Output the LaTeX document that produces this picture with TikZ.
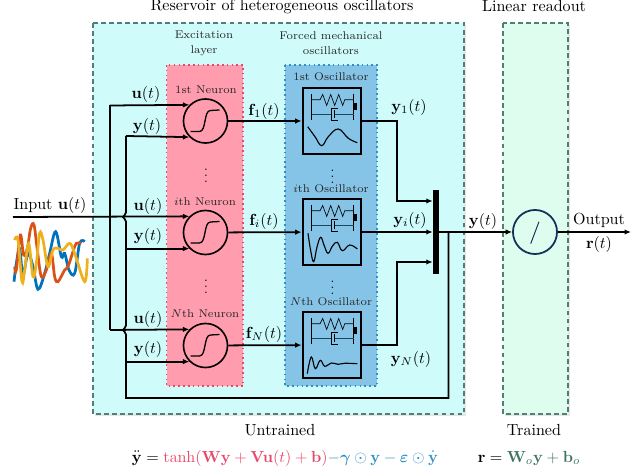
\documentclass[tikz,border=0pt]{standalone}
\usepackage{amsmath}
\usetikzlibrary{arrows.meta,shadows}
\definecolor{cyanbg}{HTML}{CFFBFB}
\definecolor{greenbg}{HTML}{DFFDEE}
\definecolor{neuronbg}{HTML}{FF9CAE}
\definecolor{oscbg}{HTML}{85C4E6}
\definecolor{dashgreen}{HTML}{4F8078}
\definecolor{neuronred}{HTML}{E8486A}
\definecolor{oscblue}{HTML}{2F8FC4}
\definecolor{trainedgreen}{HTML}{3F7560}
\definecolor{navy}{HTML}{12305A}
\definecolor{sigblue}{HTML}{0072BD}
\definecolor{sigorange}{HTML}{D95319}
\definecolor{sigyellow}{HTML}{EDB120}
\tikzset{
  panel/.style={draw=dashgreen,densely dashed,line width=.8pt,
    drop shadow={shadow xshift=1pt,shadow yshift=-1pt,opacity=.2}},
  neuron/.style={circle,draw,line width=1pt,fill=neuronbg,minimum size=27.4pt,inner sep=0pt},
  oscbox/.style={rectangle,draw,line width=1.2pt,minimum width=36.6pt,minimum height=40.5pt,inner sep=0pt},
  wire/.style={line width=1.1pt},
  arrowwire/.style={wire,-{Latex[length=4pt,width=3.4pt]}},
  small label/.style={font=\scriptsize,text=black!85},
  sig/.style={line width=1.7pt,smooth,tension=.6},
  mech/.pic={
    \draw [line width=.4pt] (-20.3,-27) -- (-20.3,-.5);
    \draw [line width=.4pt] (21.7,-27) -- (21.7,-.5);
    \draw [line width=.4pt] (-20.3,-21.2) -- (-12,-21.2) -- (-9.3,-26.5) -- (-5.3,-15.5) -- (-1.3,-26.5)
      -- (2.7,-15.5) -- (6.7,-26.5) -- (10.7,-15.5) -- (12.7,-21.2) -- (21.7,-21.2);
    \draw [line width=.8pt,black!50!oscblue] (-20.3,-6.8) -- (-1,-6.8);
    \draw [line width=.8pt,black!50!oscblue] (2,-6.8) -- (21.7,-6.8);
    \draw [line width=.4pt] (6.3,-12.5) -- (-1,-12.5) -- (-1,-.5) -- (6.3,-.5);
    \draw [line width=.4pt] (2,-11) -- (2,-2.5);
    \fill (22,-18) rectangle (24.7,-10.5);
  }
}
\begin{document}
\begin{tikzpicture}[x=.622pt,y=-.622pt] % ------ coordinates in pixels of the figure ------
    \useasboundingbox (0,0) rectangle (640,471);
    \draw [panel,fill=cyanbg] (93,23) rectangle (464,414);
    \draw [panel,fill=greenbg] (503,23) rectangle (568,414);
    \draw [draw=neuronred,dotted,line width=1pt,fill=neuronbg] (166.5,65) rectangle (243,386);
    \draw [draw=oscblue,dotted,line width=1pt,fill=oscbg] (285,65) rectangle (377,386);
    % ------ neurons, oscillators, readout ------
    \node [neuron] (neuron1) at (205.5,121) {};
    \node [neuron] (neuroni) at (205.5,232.5) {};
    \node [neuron] (neuronN) at (205.5,345.5) {};
    \node [oscbox] (osc1) at (332,121) {};
    \node [oscbox] (osci) at (332,232) {};
    \node [oscbox] (oscN) at (332,345) {};
    \node [fill=black,minimum width=3.7pt,minimum height=52.2pt,inner sep=0pt] (bar) at (436,232) {};
    \node [circle,draw=navy,line width=1.1pt,fill=greenbg,minimum size=27.4pt,inner sep=0pt] (readout) at (535,232) {};
    \foreach \n in {neuron1,neuroni,neuronN}
      \draw [line width=.8pt] (\n.center) ++(-15,10.5) -- ++(9,0) .. controls +(7,0) and +(-7,0) .. ++(11,-21) -- ++(9,-.5);
    \foreach \n in {osc1,osci,oscN}
      \pic at (\n) {mech};
    \draw [line width=.6pt,navy] (539,221.7) -- (530.7,243.7);
    % ------ responses of the oscillators ------
    \draw [line width=.7pt] plot [smooth,tension=.7] coordinates {(307.7,126.7) (315,136.7) (321.7,145.7) (328.3,136.7)
      (338.3,129) (348.3,138.3) (357.3,142.7)};
    \draw [line width=.7pt] plot [smooth,tension=.7] coordinates {(308,233.3) (310.7,250.7) (313.7,261.7) (317,247)
      (320.7,237.3) (324,245) (328,253.3) (332.5,246) (337.3,242.3) (342.3,250.7) (349.7,245) (357.3,249)};
    \draw [line width=.7pt] plot [smooth,tension=.7] coordinates {(307.3,373.7) (311.3,357) (315.3,368.7) (320.3,360.3)
      (324.7,366.3) (331.3,363) (338,364.3) (344.7,363.3) (357.3,363.7)};
    % ------ input signals ------
    \begin{scope}[shift={(8,220)},scale=1/3]
      \draw [sig,sigblue] plot coordinates {(18,185) (25,130) (35,88) (45,165) (60,100) (75,140) (90,208) (110,160)
        (125,100) (143,35) (160,110) (170,100) (183,150) (200,160) (215,70) (230,65)};
      \draw [sig,sigorange] plot coordinates {(20,140) (25,150) (37,45) (47,105) (58,85) (68,25) (78,15) (88,90) (100,170)
        (115,150) (130,100) (140,170) (150,185) (170,150) (180,140) (195,95) (205,70) (220,70)};
      \draw [sig,sigyellow] plot coordinates {(20,60) (30,60) (42,185) (50,150) (62,70) (75,170) (85,130) (95,40) (105,60)
        (120,140) (135,90) (150,85) (165,90) (185,70) (200,100) (230,185) (238,115)};
    \end{scope}
    % ------ connectors ------
    \coordinate (inputstart) at (13,217);
    \coordinate (busU) at (110,105.5);
    \coordinate (busUend) at (110,330);
    \coordinate (busY) at (126,136);
    \coordinate (busYend) at (126,398);
    \coordinate (tap) at (448.5,232);
    \coordinate (outputend) at (631,232);
    \draw [arrowwire] (inputstart) -- (neuroni.135);
    \draw [wire] (busU) -- (busUend);
    \draw [arrowwire] (busU) -- (neuron1.135);
    \draw [arrowwire] (busUend) -- (neuronN.135);
    \draw [wire] (tap) -- (tap |- busYend) -- (busYend) -- (126,334.5)
       .. controls (126,331.5) and (123,331.5) .. (123,330) .. controls (123,328.5) and (126,328.5) .. (126,325.5)
       -- (126,221.5) .. controls (126,218.5) and (123,218.5) .. (123,217) .. controls (123,215.5) and (126,215.5) .. (126,212.5)
       -- (busY);
    \draw [arrowwire] (busY) -- (neuron1.225);
    \draw [arrowwire] (busY |- neuroni.225) -- (neuroni.225);
    \draw [arrowwire] (busY |- neuronN.225) -- (neuronN.225);
    \draw [arrowwire] (neuron1) -- (osc1);
    \draw [arrowwire] (neuroni) -- (osci);
    \draw [arrowwire] (neuronN) -- (oscN);
    \coordinate (bar1) at (bar.west |- 0,201);
    \coordinate (barN) at (bar.west |- 0,262);
    \draw [arrowwire] (osc1.east) -- (397,121) |- (bar1);
    \draw [arrowwire] (osci) -- (bar.west |- osci);
    \draw [arrowwire] (oscN.east) -- (397,345) |- (barN);
    \draw [arrowwire,line width=1.2pt] (bar) -- (readout);
    \draw [arrowwire] (readout) -- (outputend);
    % ------ labels ------
    \node (lblreservoir) at (282,6) {Reservoir of heterogeneous oscillators};
    \node (lblreadout) at (534,6) {Linear readout};
    \node [small label,align=center] (lblexcitation) at (204,43.5) {Excitation\\[1.5pt]layer};
    \node [small label,align=center] (lblforced) at (331,43.5) {Forced mechanical\\[1.5pt]oscillators};
    \node [small label] (lblneuron1) at (206,90) {1st Neuron};
    \node [small label] (lblneuroni) at (205,202) {$i$th Neuron};
    \node [small label] (lblneuronN) at (205,314) {$N$th Neuron};
    \node [small label] (lblosc1) at (331,77) {1st Oscillator};
    \node [small label] (lblosci) at (331,189) {$i$th Oscillator};
    \node [small label] (lbloscN) at (331,302) {$N$th Oscillator};
    \node (lblu1) at (146,94) {$\mathbf{u}(t)$};
    \node (lbly1) at (147,126) {$\mathbf{y}(t)$};
    \node (lblui) at (148,206) {$\mathbf{u}(t)$};
    \node (lblyi) at (148,236) {$\mathbf{y}(t)$};
    \node (lbluN) at (148,319) {$\mathbf{u}(t)$};
    \node (lblyN) at (148,349) {$\mathbf{y}(t)$};
    \node (lblf1) at (264,111) {$\mathbf{f}_1(t)$};
    \node (lblfi) at (264,221) {$\mathbf{f}_i(t)$};
    \node (lblfN) at (264,334) {$\mathbf{f}_N(t)$};
    \node (lblout1) at (409,107) {$\mathbf{y}_1(t)$};
    \node (lblouti) at (410,220) {$\mathbf{y}_i(t)$};
    \node (lbloutN) at (411,359) {$\mathbf{y}_N(t)$};
    \node (lbly) at (483,221) {$\mathbf{y}(t)$};
    \node (lblinput) at (50,205) {Input $\mathbf{u}(t)$};
    \node (lbloutput) at (599,220) {Output};
    \node (lblr) at (599,244) {$\mathbf{r}(t)$};
    \node (lbluntrained) at (280,430) {Untrained};
    \node (lbltrained) at (534,430) {Trained};
    \foreach \y [count=\k] in {171,282}
      \node [font=\footnotesize,inner sep=0pt] (dotsn\k) at (206,\y) {$\vdots$};
    \foreach \y [count=\k] in {172,283}
      \node [font=\footnotesize,inner sep=0pt] (dotso\k) at (332.5,\y) {$\vdots$};
    \node (eqnres) at (285,458) {$\ddot{\mathbf{y}}=\textcolor{neuronred}{\tanh(\mathbf{Wy}+\mathbf{Vu}(t)+\mathbf{b})}\textcolor{oscblue}{-\boldsymbol{\gamma}\odot\mathbf{y}-\boldsymbol{\varepsilon}\odot\dot{\mathbf{y}}}$};
    \node (eqnout) at (529,458) {$\mathbf{r}=\textcolor{trainedgreen}{\mathbf{W}_o\mathbf{y}+\mathbf{b}_o}$};
\end{tikzpicture}
\end{document}
